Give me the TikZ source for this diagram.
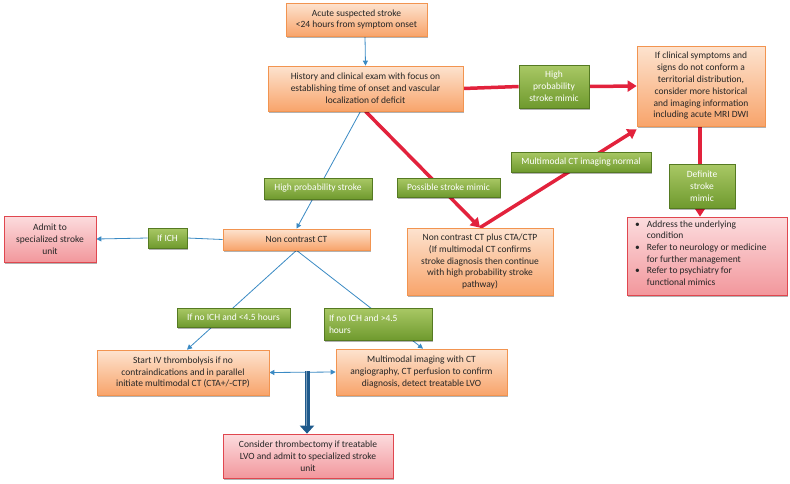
\documentclass[tikz,border=0pt]{standalone}
\usepackage{fontspec}
\setmainfont{Carlito}
\usetikzlibrary{arrows.meta,shadows,backgrounds}
\definecolor{oT}{HTML}{FDE3CF}
\definecolor{oB}{HTML}{F8A46B}
\definecolor{oD}{HTML}{F29450}
\definecolor{gT}{HTML}{A9C865}
\definecolor{gB}{HTML}{6F9A2E}
\definecolor{gD}{HTML}{557A22}
\definecolor{rT}{HTML}{FCDCDE}
\definecolor{rB}{HTML}{F2979C}
\definecolor{rD}{HTML}{E0474F}
\definecolor{lineRed}{HTML}{E2223C}
\definecolor{lineBlue}{HTML}{3A8AC4}
\definecolor{thickBlue}{HTML}{1F5A8C}
\tikzset{
  basebox/.style={inner sep=0pt, align=center, line width=0.7pt,
    font=\fontsize{9.5}{11.8}\selectfont,
    drop shadow={shadow xshift=1.2pt, shadow yshift=-1.5pt, opacity=0.3, fill=black}},
  obox/.style={basebox, draw=oD, top color=oT, bottom color=oB, text=black!85},
  rbox/.style={basebox, draw=rD, top color=rT, bottom color=rB, text=black!85},
  gbox/.style={basebox, draw=gD, top color=gT, bottom color=gB, text=white},
  redline/.style={draw=lineRed, line width=3.5pt},
  redarrow/.style={redline, -{Triangle[length=9pt,width=11pt]}},
  blueline/.style={draw=lineBlue, line width=0.8pt},
  bluearrow/.style={blueline, -{Triangle[length=5pt,width=5pt]}},
}
\begin{document}
\begin{tikzpicture}[x=1pt,y=-1pt]
\useasboundingbox (0,0) rectangle (790,483);
% nodes
\node[obox, minimum width=141pt, minimum height=33pt] (acute) at (356.5,19.5) {Acute suspected stroke\\<24 hours from symptom onset};
\node[obox, minimum width=195pt, minimum height=45pt] (hist) at (365.5,88.5) {History and clinical exam with focus on\\establishing time of onset and vascular\\localization of deficit};
\node[gbox, minimum width=70pt, minimum height=43pt] (hpsm) at (554,86.5) {High\\probability\\stroke mimic};
\node[obox, minimum width=128pt, minimum height=80pt] (clin) at (701,86) {If clinical symptoms and\\signs do not conform a\\territorial distribution,\\consider more historical\\and imaging information\\including acute MRI DWI};
\node[gbox, minimum width=66pt, minimum height=44pt] (dsm) at (702,186) {Definite\\stroke\\mimic};
\node[rbox, minimum width=160pt, minimum height=78pt] (bul) at (707,256) {};
\node[anchor=north west, inner sep=0pt, font=\fontsize{9.5}{11.6}\selectfont, text=black!85] (bultext) at (635,219) {\begin{tabular}{@{}l@{\hspace{7pt}}l@{}}\textbullet & Address the underlying\\ & condition\\ \textbullet & Refer to neurology or medicine\\ & for further management\\ \textbullet & Refer to psychiatry for\\ & functional mimics\end{tabular}};
\node[obox, minimum width=146pt, minimum height=67pt] (ncplus) at (480,261.5) {Non contrast CT plus CTA/CTP\\(If multimodal CT confirms\\stroke diagnosis then continue\\with high probability stroke\\pathway)};
\node[obox, minimum width=147pt, minimum height=21pt] (ncct) at (296.5,239.5) {Non contrast CT};
\node[rbox, minimum width=92pt, minimum height=46pt] (admit) at (50,239) {Admit to\\specialized stroke\\unit};
\node[obox, minimum width=172pt, minimum height=45pt] (startiv) at (183,372.5) {Start IV thrombolysis if no\\contraindications and in parallel\\initiate multimodal CT (CTA+/-CTP)};
\node[obox, minimum width=171pt, minimum height=46pt] (multi) at (421.5,372) {Multimodal imaging with CT\\angiography, CT perfusion to confirm\\diagnosis, detect treatable LVO};
\node[rbox, minimum width=170pt, minimum height=44pt] (thromb) at (308,456) {Consider thrombectomy if treatable\\LVO and admit to specialized stroke\\unit};
% green labels on connectors
\node[gbox, minimum width=140pt, minimum height=20pt] (mmn) at (581,162) {Multimodal CT imaging normal};
\node[gbox, minimum width=103pt, minimum height=19pt] (psm) at (448.5,187.5) {Possible stroke mimic};
\node[gbox, minimum width=108pt, minimum height=21pt] (hps) at (318,188.5) {High probability stroke};
\node[gbox, minimum width=39pt, minimum height=20pt] (ich) at (167.5,238) {If ICH};
\node[gbox, minimum width=113pt, minimum height=19pt] (lt45) at (233.5,317.5) {If no ICH and <4.5 hours};
\node[gbox, minimum width=108pt, minimum height=32pt, align=left] (gt45) at (378,324) {\makebox[98pt][l]{If no ICH and >4.5}\\\makebox[98pt][l]{hours}};
\coordinate (mid) at (307,371);
% connectors
\begin{scope}[on background layer]
\fill[white] (0,0) rectangle (790,483);
\draw[bluearrow] ([xshift=8.5pt]acute.south) -- (hist.north);
\draw[redline] (hist.east) -- (hpsm.west);
\draw[redarrow] (hpsm.east) -- ([yshift=0pt]clin.west);
\draw[redarrow] (hist.south) -- (ncplus.north);
\draw[redarrow] (ncplus.north) -- ([yshift=-3pt]clin.south west);
\draw[redline] ([xshift=-1pt]clin.south) -- ([xshift=-2pt]dsm.north);
\draw[redarrow] ([xshift=-2pt]dsm.south) -- ([xshift=-7pt]bul.north);
\draw[bluearrow] ([xshift=-5pt]hist.south) -- (ncct.north);
\draw[blueline] (ncct.west) -- (ich.east);
\draw[bluearrow] (ich.west) -- (admit.east);
\draw[bluearrow] (ncct.south) -- ([xshift=4pt]startiv.north);
\draw[bluearrow] (ncct.south) -- ([xshift=1.5pt]multi.north);
\draw[bluearrow, {Triangle[length=5pt,width=5pt]}-{Triangle[length=5pt,width=5pt]}] (startiv.east) -- (multi.west);
\end{scope}
\draw[draw=thickBlue, line width=5pt, -{Triangle[length=8pt,width=14pt]}] (mid) -- ([xshift=-1pt]thromb.north);
\draw[draw=thickBlue!60!white, line width=1.5pt, shorten >=8pt] ([xshift=-0.5pt]mid) -- ([xshift=-1.5pt]thromb.north);
\end{tikzpicture}
\end{document}
